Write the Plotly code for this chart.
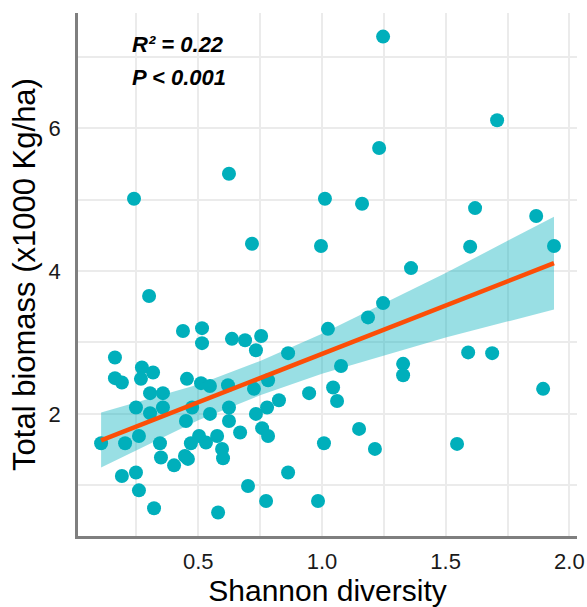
import plotly.graph_objects as go

# Shannon diversity (x) and total biomass (x1000 Kg/ha) (y)
shannon = [1.247, 1.708, 0.624, 0.240, 1.012, 1.162, 1.231, 1.619, 1.866, 0.717,
           0.996, 1.599, 1.938, 1.360, 0.301, 1.247, 1.186, 0.438, 0.515, 1.024,
           0.515, 0.636, 0.689, 0.754, 0.733, 0.863, 0.163, 0.272, 0.317, 0.268,
           0.163, 0.191, 0.454, 0.511, 0.547, 0.620, 0.725, 0.782, 1.077, 1.328,
           1.328, 1.591, 1.688, 1.894, 0.305, 0.357, 0.248, 0.305, 0.357, 0.475,
           0.547, 0.624, 0.733, 0.778, 0.826, 0.948, 1.045, 1.061, 0.450, 0.624,
           0.669, 0.758, 0.782, 0.107, 0.204, 0.260, 0.345, 0.470, 0.503, 0.531,
           0.576, 0.596, 0.600, 0.349, 0.402, 0.446, 0.191, 0.248, 0.260, 0.321,
           0.580, 0.701, 0.774, 0.863, 0.984, 1.008, 1.150, 1.214, 1.546, 0.458]
biomass = [7.28, 6.11, 5.36, 5.01, 5.01, 4.94, 5.72, 4.88, 4.77, 4.38,
           4.35, 4.34, 4.35, 4.04, 3.65, 3.55, 3.35, 3.16, 3.20, 3.19,
           2.99, 3.05, 3.03, 3.09, 2.89, 2.85, 2.79, 2.65, 2.58, 2.49,
           2.50, 2.44, 2.49, 2.43, 2.39, 2.40, 2.35, 2.47, 2.67, 2.70,
           2.54, 2.86, 2.85, 2.35, 2.29, 2.29, 2.09, 2.01, 2.09, 2.09,
           2.00, 2.09, 2.00, 2.09, 2.19, 2.29, 2.37, 2.18, 1.90, 1.90,
           1.74, 1.80, 1.69, 1.59, 1.59, 1.69, 1.59, 1.59, 1.69, 1.60,
           1.69, 1.51, 1.38, 1.39, 1.28, 1.41, 1.13, 1.18, 0.93, 0.68,
           0.62, 0.99, 0.78, 1.18, 0.78, 1.59, 1.79, 1.51, 1.58, 1.37]

# fitted regression line and its 95% confidence band
fit_x = [0.107, 1.938]
fit_y = [1.63, 4.11]
band_x = [0.107, 0.5, 0.75, 1.0, 1.5, 1.938]
band_upper = [2.02, 2.41, 2.74, 3.12, 3.97, 4.76]
band_lower = [1.25, 1.91, 2.26, 2.56, 3.07, 3.46]

x_ticks = [0.5, 1.0, 1.5, 2.0]
x_tick_labels = ["0.5", "1.0", "1.5", "2.0"]
y_ticks = [2, 4, 6]
y_tick_labels = ["2", "4", "6"]
stats_lines = ["R² = 0.22", "P < 0.001"]

teal = "#00AFBB"
fig = go.Figure()
fig.add_trace(go.Scatter(x=shannon, y=biomass, mode="markers",
                         marker=dict(color=teal, size=14, line=dict(width=0)),
                         showlegend=False))
fig.add_trace(go.Scatter(x=band_x + band_x[::-1],
                         y=band_upper + band_lower[::-1],
                         fill="toself", fillcolor="rgba(0,175,187,0.4)",
                         line=dict(width=0), mode="lines", showlegend=False,
                         hoverinfo="skip"))
fig.add_trace(go.Scatter(x=fit_x, y=fit_y, mode="lines",
                         line=dict(color="#FC4E07", width=4.5), showlegend=False))

for txt, yy in zip(stats_lines, [7.17, 6.71]):
    fig.add_annotation(x=0.225, y=yy, xref="x", yref="y", text="<b><i>" + txt + "</i></b>",
                       showarrow=False, xanchor="left", yanchor="middle",
                       font=dict(size=22, color="black", family="Liberation Sans, Arial"))

grid_col = "#EBEBEB"
fig.update_layout(
    width=587, height=607,
    margin=dict(l=78, r=10, t=13, b=71),
    paper_bgcolor="white", plot_bgcolor="white",
    font=dict(family="Liberation Sans, Arial", color="black"),
    xaxis=dict(range=[0.0136, 2.031], tickvals=x_ticks, ticktext=x_tick_labels,
               showgrid=True, gridcolor=grid_col, gridwidth=2,
               minor=dict(tickvals=[0.25, 0.75, 1.25, 1.75], showgrid=True,
                          gridcolor=grid_col, gridwidth=2),
               showline=True, linecolor="#7F7F7F", linewidth=2.5,
               ticks="", zeroline=False, tickfont=dict(size=22, color="#1a1a1a"),
               ticklabelstandoff=4, automargin=False,
               title=dict(text="Shannon diversity", font=dict(size=30, color="black"), standoff=10)),
    yaxis=dict(range=[0.291, 7.61], tickvals=y_ticks, ticktext=y_tick_labels,
               showgrid=True, gridcolor=grid_col, gridwidth=2,
               minor=dict(tickvals=[1, 3, 5, 7], showgrid=True,
                          gridcolor=grid_col, gridwidth=2),
               showline=True, linecolor="#7F7F7F", linewidth=2.5,
               ticks="", zeroline=False, tickfont=dict(size=22, color="#1a1a1a"),
               ticklabelstandoff=10, automargin=False,
               title=dict(text="Total biomass (x1000 Kg/ha)", font=dict(size=31, color="black"), standoff=4)),
)
fig.write_html("out.html", config={"displayModeBar": False},
               post_script="document.body.style.margin='0px';")
